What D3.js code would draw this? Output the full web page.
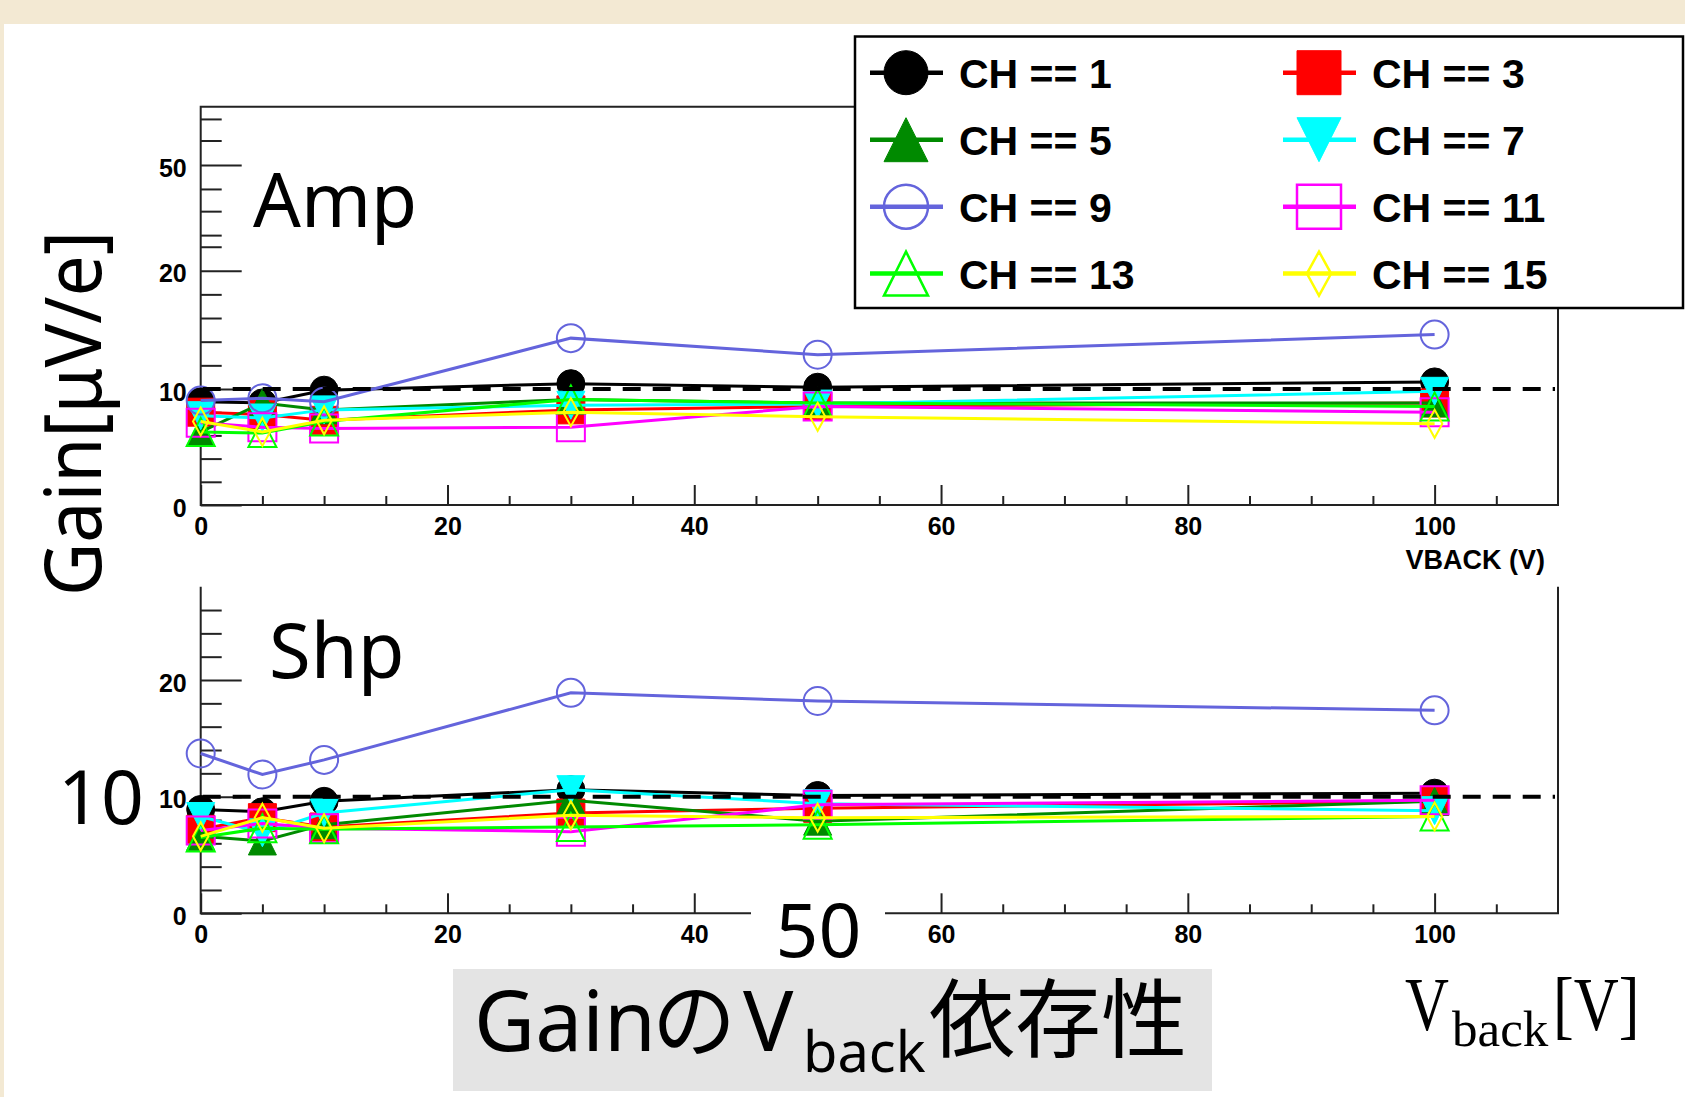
<!DOCTYPE html>
<html>
<head>
<meta charset="utf-8">
<script src="https://cdn.jsdelivr.net/npm/d3@7"></script>
<style>
  body { margin: 0; background: #fff; }
</style>
</head>
<body>
<svg id="chart" width="1685" height="1097"></svg>
<script>
// back voltage points (V)
const vback = [0, 5, 10, 30, 50, 100];
const channels = [1, 3, 5, 7, 9, 11, 13, 15];

// Amp gain [uV/e] per channel
const ampCH1  = [8.9, 8.8, 9.9, 10.45, 10.15, 10.6];
const ampCH3  = [8.0, 7.8, 7.3, 8.2, 8.5, 8.8];
const ampCH5  = [6.3, 8.8, 8.2, 9.1, 8.8, 8.8];
const ampCH7  = [7.7, 7.5, 8.2, 8.6, 8.7, 9.8];
const ampCH9  = [9.0, 9.2, 8.9, 14.3, 12.9, 14.6];
const ampCH11 = [7.1, 6.7, 6.6, 6.7, 8.5, 8.0];
const ampCH13 = [6.3, 6.2, 7.2, 9.1, 8.8, 8.5];
const ampCH15 = [7.2, 6.3, 7.3, 8.0, 7.6, 7.0];

// Shp gain [uV/e] per channel
const shpCH1  = [8.9, 8.7, 9.6, 10.6, 10.1, 10.3];
const shpCH3  = [7.2, 8.2, 7.4, 8.6, 9.0, 9.6];
const shpCH5  = [6.6, 6.2, 7.6, 9.7, 7.9, 9.6];
const shpCH7  = [8.3, 6.9, 8.6, 10.6, 9.4, 8.8];
const shpCH9  = [13.7, 11.9, 13.15, 18.9, 18.2, 17.4];
const shpCH11 = [7.1, 7.7, 7.3, 7.0, 9.3, 9.7];
const shpCH13 = [6.5, 7.3, 7.2, 7.4, 7.6, 8.3];
const shpCH15 = [6.6, 8.2, 7.3, 8.4, 8.2, 8.3];

const refGain = 10;

// tick labels
const xTicks = [0, 20, 40, 60, 80, 100];
const xMinor = [5, 10, 15, 25, 30, 35, 45, 50, 55, 65, 70, 75, 85, 90, 95, 105];
const ampYTicks = [0, 10, 20, 50];
const ampYMinor = [2, 4, 6, 8, 12, 14, 16, 18, 26.8, 30.1, 36.9, 43.2, 54.2, 57.9];
const shpYTicks = [0, 10, 20];
const shpYMinor = [2, 4, 6, 8, 12, 14, 16, 18, 22, 24, 26];

const ampGain = [ampCH1, ampCH3, ampCH5, ampCH7, ampCH9, ampCH11, ampCH13, ampCH15];
const shpGain = [shpCH1, shpCH3, shpCH5, shpCH7, shpCH9, shpCH11, shpCH13, shpCH15];

// ROOT-like styles per channel
const styles = [
  { color: '#000000', shape: 'circle', fill: true },
  { color: '#ff0000', shape: 'square', fill: true },
  { color: '#008a00', shape: 'tup', fill: true },
  { color: '#00ffff', shape: 'tdown', fill: true },
  { color: '#6464dc', shape: 'circle', fill: false },
  { color: '#ff00ff', shape: 'square', fill: false },
  { color: '#00ff00', shape: 'tup', fill: false },
  { color: '#ffff00', shape: 'diamond', fill: false }
];

const W = 1685, H = 1097;
const svg = d3.select('#chart');

// slide background
svg.append('rect').attr('width', W).attr('height', H).attr('fill', '#f3e9d3');
svg.append('rect').attr('x', 4).attr('y', 24).attr('width', W - 4).attr('height', H - 24).attr('fill', '#fff');

const x = d3.scaleLinear().domain([0, 110]).range([200.7, 1558]);
const yAmp = d3.scaleLinear().domain([0, 10, 20, 50, 60]).range([505, 389, 270.7, 165, 106.7]);
const yShp = d3.scaleLinear().domain([0, 28]).range([913.3, 586.7]);

function shapePath(type, s) {
  const h = s / 2;
  if (type === 'circle') return `M${-h},0A${h},${h} 0 1,0 ${h},0A${h},${h} 0 1,0 ${-h},0Z`;
  if (type === 'square') return `M${-h},${-h}H${h}V${h}H${-h}Z`;
  if (type === 'tup') return `M0,${-h}L${h},${h}L${-h},${h}Z`;
  if (type === 'tdown') return `M0,${h}L${h},${-h}L${-h},${-h}Z`;
  return `M0,${-h}L${h * 0.55},0L0,${h}L${-h * 0.55},0Z`;
}

function styleAxis(g) {
  g.attr('font-family', "'Liberation Sans', Arial, sans-serif")
    .attr('font-size', 25)
    .attr('font-weight', 'bold');
  g.selectAll('line').attr('stroke', '#222').attr('stroke-width', 2);
  g.select('.domain').remove();
}

function drawPanel(y, gains, yTicks, yMinor, fullBox) {
  const g = svg.append('g');
  const x0 = x.range()[0], x1 = x.range()[1];
  const yb = y.range()[0], yt = y.range()[y.range().length - 1];

  // minor ticks
  g.append('g').attr('transform', `translate(${x0},0)`)
    .call(d3.axisLeft(y).tickValues(yMinor).tickSize(-21).tickFormat(''))
    .call(styleAxis);
  g.append('g').attr('transform', `translate(0,${yb})`)
    .call(d3.axisBottom(x).tickValues(xMinor).tickSize(-9).tickFormat(''))
    .call(styleAxis);

  // major ticks + labels
  g.append('g').attr('transform', `translate(${x0},0)`)
    .call(d3.axisLeft(y).tickValues(yTicks).tickSize(-41).tickPadding(14).tickFormat(d3.format('d')))
    .call(styleAxis)
    .selectAll('text').attr('dy', '0.45em');
  g.append('g').attr('transform', `translate(0,${yb})`)
    .call(d3.axisBottom(x).tickValues(xTicks).tickSize(-20).tickPadding(12).tickFormat(d3.format('d')))
    .call(styleAxis);

  // frame
  const frame = fullBox
    ? `M${x0},${yb}V${yt}H${x1}V${yb}Z`
    : `M${x0},${yt}V${yb}H${x1}V${yt}`;
  g.append('path').attr('d', frame).attr('fill', 'none').attr('stroke', '#222').attr('stroke-width', 2);

  const series = channels.map((ch, i) => ({
    ch: ch,
    st: styles[i],
    pts: vback.map((v, j) => ({ v: v, g: gains[i][j] }))
  }));

  const line = d3.line().x(d => x(d.v)).y(d => y(d.g));
  const sg = g.selectAll('.series').data(series).join('g').attr('class', 'series');
  sg.append('path')
    .attr('d', d => line(d.pts))
    .attr('fill', 'none')
    .attr('stroke', d => d.st.color)
    .attr('stroke-width', 3);
  sg.each(function (d) {
    d3.select(this).selectAll('.mk').data(d.pts).join('path')
      .attr('class', 'mk')
      .attr('transform', p => `translate(${x(p.v)},${y(p.g)})`)
      .attr('d', shapePath(d.st.shape, 28))
      .attr('fill', d.st.fill ? d.st.color : 'none')
      .attr('stroke', d.st.color)
      .attr('stroke-width', d.st.fill ? 1 : 2);
  });

  // reference line
  g.append('line')
    .attr('x1', x(0) + 2).attr('x2', x1 - 3)
    .attr('y1', y(refGain)).attr('y2', y(refGain))
    .attr('stroke', '#000').attr('stroke-width', 4)
    .attr('stroke-dasharray', '18,12');
  return g;
}

drawPanel(yAmp, ampGain, ampYTicks, ampYMinor, true);
drawPanel(yShp, shpGain, shpYTicks, shpYMinor, false);

// axis title of the upper pad
svg.append('text')
  .attr('x', 1545).attr('y', 569)
  .attr('text-anchor', 'end')
  .attr('font-family', "'Liberation Sans', Arial, sans-serif")
  .attr('font-weight', 'bold')
  .attr('font-size', 27)
  .text('VBACK (V)');

// panel names
const sans = "'Noto Sans', 'Noto Sans CJK JP', sans-serif";
svg.append('text').attr('x', 253).attr('y', 227).attr('font-family', sans).attr('font-size', 75).text('Amp');
svg.append('text').attr('x', 269).attr('y', 678).attr('font-family', sans).attr('font-size', 76).text('Shp');

// y title
svg.append('text')
  .attr('transform', 'translate(101,413.5) rotate(-90)')
  .attr('text-anchor', 'middle')
  .attr('font-family', sans)
  .attr('font-size', 78)
  .attr('textLength', 365)
  .attr('lengthAdjust', 'spacingAndGlyphs')
  .text('Gain[μV/e]');

// pasted big labels
svg.append('text').attr('x', 101).attr('y', 824).attr('text-anchor', 'middle')
  .attr('font-family', sans).attr('font-size', 75).text('10');
svg.append('rect').attr('x', 751).attr('y', 890).attr('width', 134).attr('height', 72).attr('fill', '#fff');
svg.append('text').attr('x', 818.5).attr('y', 957).attr('text-anchor', 'middle')
  .attr('font-family', sans).attr('font-size', 75).text('50');

// slide title box
svg.append('rect').attr('x', 453).attr('y', 969).attr('width', 759).attr('height', 122).attr('fill', '#e4e4e4');
const title = svg.append('text').attr('y', 1051)
  .attr('font-family', sans).attr('font-size', 84);
title.append('tspan').attr('x', 474).text('Gain');
title.append('tspan').attr('x', 652).text('の');
title.append('tspan').attr('x', 743).text('V');
title.append('tspan').attr('x', 803).attr('font-size', 56).attr('dy', 21).text('back');
title.append('tspan').attr('x', 929).attr('font-size', 86).attr('dy', -21).text('依存性');

// V_back[V] in serif
const serif = "'Liberation Serif', 'Times New Roman', serif";
svg.append('text').attr('transform', 'translate(1405,1030) scale(0.8,1)')
  .attr('font-family', serif).attr('font-size', 76).text('V');
svg.append('text').attr('x', 1452).attr('y', 1046)
  .attr('font-family', serif).attr('font-size', 51).text('back');
svg.append('text').attr('transform', 'translate(1553,1030) scale(0.82,1)')
  .attr('font-family', serif).attr('font-size', 76).text('[V]');

// legend
const lg = svg.append('g');
lg.append('rect').attr('x', 855).attr('y', 36.5).attr('width', 828).attr('height', 271.5)
  .attr('fill', '#fff').attr('stroke', '#000').attr('stroke-width', 2.5);
const colX = [906, 1319];
const rowY = [72.7, 139.7, 206.7, 273.6];
const items = lg.selectAll('.item').data(channels).join('g').attr('class', 'item')
  .attr('transform', (d, i) => `translate(${colX[i % 2]},${rowY[Math.floor(i / 2)]})`);
items.append('line').attr('x1', -36).attr('x2', 37)
  .attr('stroke', (d, i) => styles[i].color).attr('stroke-width', 4.5);
items.append('path')
  .attr('d', (d, i) => shapePath(styles[i].shape, 44))
  .attr('fill', (d, i) => styles[i].fill ? styles[i].color : 'none')
  .attr('stroke', (d, i) => styles[i].color)
  .attr('stroke-width', (d, i) => styles[i].fill ? 1 : 2.5);
items.append('text').attr('x', 53).attr('y', 15)
  .attr('font-family', "'Liberation Sans', Arial, sans-serif")
  .attr('font-weight', 'bold').attr('font-size', 41)
  .text(d => 'CH == ' + d);
</script>
</body>
</html>
